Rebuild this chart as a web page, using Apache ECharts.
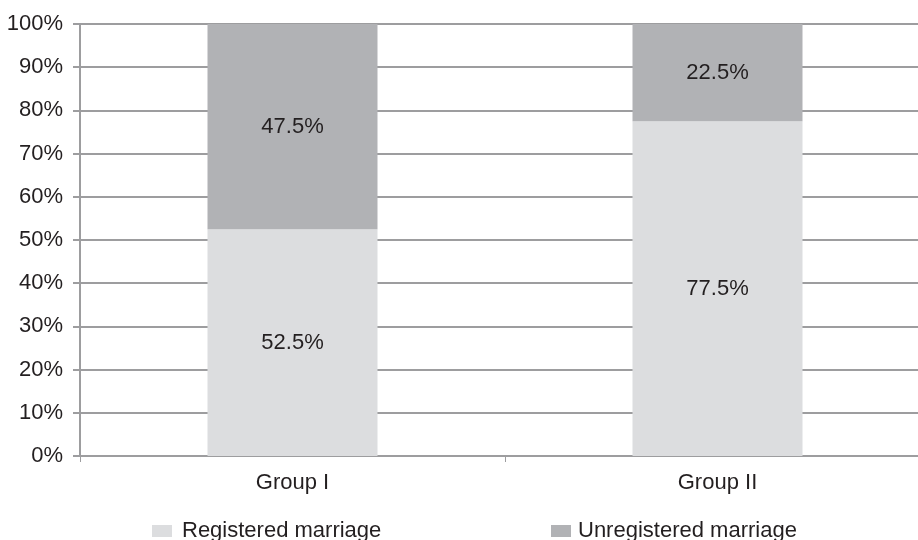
<!DOCTYPE html>
<html>
<head>
<meta charset="utf-8">
<script src="https://cdn.jsdelivr.net/npm/echarts@6/dist/echarts.min.js"></script>
<style>
  html, body { margin: 0; padding: 0; background: #ffffff; }
  #chart { width: 918px; height: 540px; }
</style>
</head>
<body>
<div id="chart"></div>
<script>
// Marriage type share by group (percent of each group)
const categories = ['Group I', 'Group II'];
const registered = [52.5, 77.5];
const unregistered = [47.5, 22.5];
const yTicks = [0, 10, 20, 30, 40, 50, 60, 70, 80, 90, 100];

const FONT = '"Liberation Sans", Arial, sans-serif';
const TEXT = '#231f20';
const LINE = '#9d9d9f';

const chart = echarts.init(document.getElementById('chart'), null, { renderer: 'canvas' });

const labelStyle = {
  show: true,
  position: 'inside',
  formatter: p => p.value.toFixed(1) + '%',
  color: TEXT,
  fontFamily: FONT,
  fontSize: 22
};

chart.setOption({
  animation: false,
  backgroundColor: '#ffffff',
  // plot area runs past the right edge of the canvas
  grid: { left: 80, top: 24, width: 850, height: 432, containLabel: false, outerBoundsMode: 'none' },
  xAxis: {
    type: 'category',
    data: categories,
    axisLine: { lineStyle: { color: LINE, width: 2 } },
    axisTick: { show: true, length: 6, lineStyle: { color: LINE, width: 1 } },
    axisLabel: { color: TEXT, fontFamily: FONT, fontSize: 22, margin: 16 }
  },
  yAxis: {
    type: 'value',
    min: yTicks[0],
    max: yTicks[yTicks.length - 1],
    interval: yTicks[1] - yTicks[0],
    axisLine: { show: true, lineStyle: { color: LINE, width: 2 } },
    axisTick: { show: true, length: 7, lineStyle: { color: LINE, width: 2 } },
    axisLabel: {
      color: TEXT, fontFamily: FONT, fontSize: 22, margin: 17,
      formatter: v => v + '%'
    },
    splitLine: { show: true, lineStyle: { color: LINE, width: 2 } }
  },
  legend: [
    {
      data: ['Registered marriage'],
      left: 147, top: 515,
      itemWidth: 20, itemHeight: 12, itemGap: 10,
      icon: 'rect',
      textStyle: { color: TEXT, fontFamily: FONT, fontSize: 22, padding: [0, 0, 0, 5] }
    },
    {
      data: ['Unregistered marriage'],
      left: 546, top: 515,
      itemWidth: 20, itemHeight: 12, itemGap: 10,
      icon: 'rect',
      textStyle: { color: TEXT, fontFamily: FONT, fontSize: 22, padding: [0, 0, 0, 2] }
    }
  ],
  series: [
    {
      name: 'Registered marriage',
      type: 'bar',
      stack: 'share',
      barWidth: '40%',
      data: registered,
      itemStyle: { color: '#dcdddf' },
      label: labelStyle
    },
    {
      name: 'Unregistered marriage',
      type: 'bar',
      stack: 'share',
      barWidth: '40%',
      data: unregistered,
      itemStyle: { color: '#b1b2b5' },
      label: labelStyle
    }
  ]
});
</script>
</body>
</html>
